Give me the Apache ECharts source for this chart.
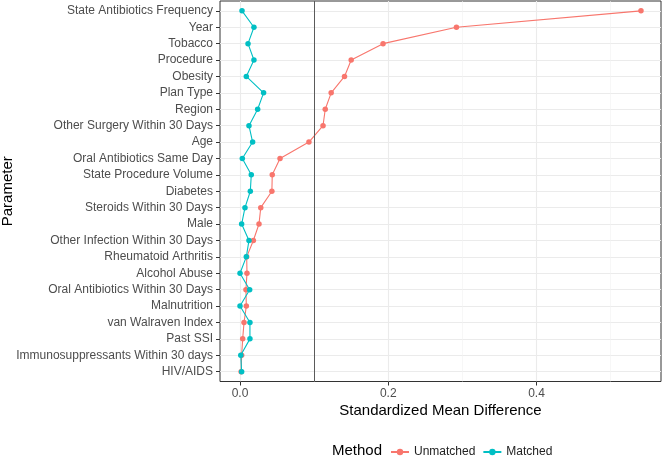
<!DOCTYPE html>
<html>
<head>
<meta charset="utf-8">
<script src="https://cdn.jsdelivr.net/npm/echarts@6/dist/echarts.min.js"></script>
<style>html,body{margin:0;padding:0;background:#fff}#c{width:664px;height:457px}</style>
</head>
<body>
<div id="c"></div>
<script>
const categories = ["State Antibiotics Frequency","Year","Tobacco","Procedure","Obesity","Plan Type","Region","Other Surgery Within 30 Days","Age","Oral Antibiotics Same Day","State Procedure Volume","Diabetes","Steroids Within 30 Days","Male","Other Infection Within 30 Days","Rheumatoid Arthritis","Alcohol Abuse","Oral Antibiotics Within 30 Days","Malnutrition","van Walraven Index","Past SSI","Immunosuppressants Within 30 days","HIV/AIDS"];
const unmatched = [0.541,0.292,0.193,0.150,0.141,0.123,0.115,0.112,0.093,0.054,0.0435,0.043,0.028,0.0256,0.018,0.009,0.0094,0.008,0.0085,0.0054,0.0036,0.0022,0.0015];
const matched = [0.0027,0.0188,0.0108,0.0188,0.0085,0.0318,0.0238,0.0121,0.017,0.0031,0.0152,0.0139,0.0067,0.0022,0.0121,0.0085,0.0,0.013,0.0,0.0134,0.0134,0.001,0.0022];
const xMajor = [0, 0.2, 0.4];
const xMinor = [0.1, 0.3, 0.5];
const threshold = 0.1;

const chart = echarts.init(document.getElementById('c'), null, {renderer:'canvas'});
const idx = categories.map((_, i) => i);
const FONT = 'Liberation Sans, Arial, sans-serif';
chart.setOption({
  animation: false,
  grid: {left: 220, right: 3, top: 1, bottom: 75.5, containLabel: false, outerBoundsMode: 'none', show: true, borderColor: '#333', borderWidth: 1, backgroundColor: '#fff'},
  title: {text: 'Method', left: 332, top: 443, padding: 0, textStyle: {fontFamily: FONT, fontSize: 15, fontWeight: 'normal', color: '#000'}},
  legend: {
    left: 390, top: 446, padding: 0, itemWidth: 18, itemHeight: 8, itemGap: 7,
    textStyle: {fontFamily: FONT, fontSize: 12, color: '#222'},
    data: ['Unmatched', 'Matched']
  },
  xAxis: [{
    type: 'value', min: -0.027, max: 0.568, position: 'bottom',
    name: 'Standardized Mean Difference', nameLocation: 'middle', nameGap: 22, nameMoveOverlap: false,
    nameTextStyle: {fontFamily: FONT, fontSize: 15, color: '#000'},
    axisLine: {show: false, onZero: false},
    axisTick: {show: true, length: 4, lineStyle: {color: '#333'}, customValues: xMajor},
    axisLabel: {customValues: xMajor, margin: 6, fontFamily: FONT, fontSize: 12, color: '#4d4d4d', formatter: v => v.toFixed(1)},
    splitLine: {show: true, lineStyle: {color: '#ebebeb', width: 1.1}}
  }, {
    type: 'value', min: -0.027, max: 0.568, position: 'bottom',
    axisLine: {show: false, onZero: false},
    axisTick: {show: false, customValues: xMinor},
    axisLabel: {show: false, customValues: xMinor},
    splitLine: {show: true, lineStyle: {color: '#f2f2f2', width: 0.6}}
  }],
  yAxis: {
    type: 'value', inverse: true, min: -0.6, max: 22.6, position: 'left',
    name: 'Parameter', nameLocation: 'middle', nameGap: 205, nameRotate: 90, nameMoveOverlap: false,
    nameTextStyle: {fontFamily: FONT, fontSize: 15, color: '#000'},
    axisLine: {show: false, onZero: false},
    axisTick: {show: true, length: 4, lineStyle: {color: '#333'}, customValues: idx},
    axisLabel: {customValues: idx, margin: 7, fontFamily: FONT, fontSize: 12, color: '#4d4d4d', formatter: v => categories[Math.round(v)] || ''},
    splitLine: {show: true, lineStyle: {color: '#ebebeb', width: 1.1}}
  },
  series: [{
    name: 'Unmatched', type: 'line', xAxisIndex: 0,
    data: unmatched.map((v, i) => [v, i]),
    symbol: 'circle', symbolSize: 5.5,
    itemStyle: {color: '#F8766D'},
    lineStyle: {color: '#F8766D', width: 1.1},
    z: 3,
    markLine: {
      silent: true, symbol: 'none', label: {show: false},
      lineStyle: {color: '#5a5a5a', width: 1, type: 'solid'},
      data: [{xAxis: threshold}]
    }
  }, {
    name: 'Matched', type: 'line', xAxisIndex: 0,
    data: matched.map((v, i) => [v, i]),
    symbol: 'circle', symbolSize: 5.5,
    itemStyle: {color: '#00BFC4'},
    lineStyle: {color: '#00BFC4', width: 1.1},
    z: 4
  }]
});
</script>
</body>
</html>
